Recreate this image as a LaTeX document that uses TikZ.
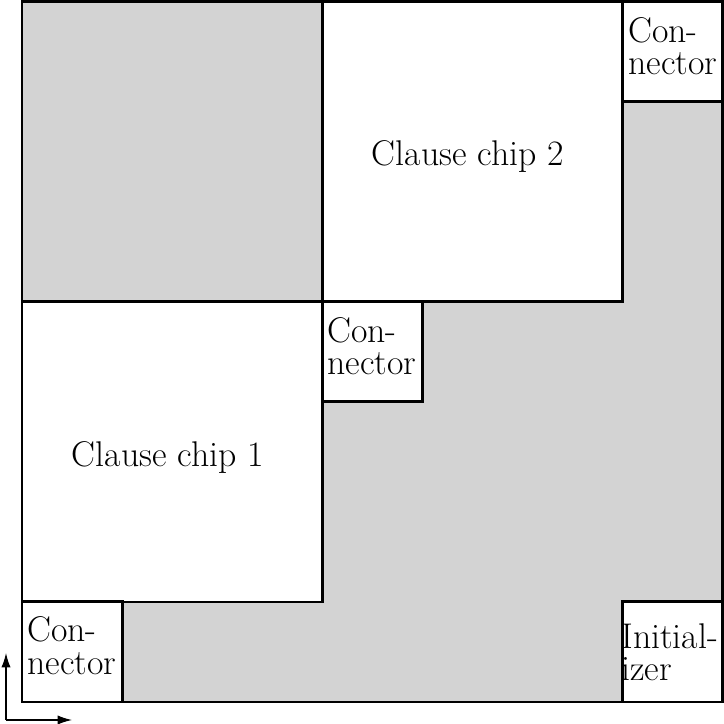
\documentclass[tikz,border=0pt]{standalone}
\usepackage{xcolor}
\definecolor{free}{RGB}{211, 211, 211}
\usepackage{tikz}
\usetikzlibrary{arrows.meta,positioning}

\begin{document}
\begin{tikzpicture}[
  x=1.7cm, y=1.7cm,
  chip/.style={draw=black, fill=white, minimum size=5.1cm, line width=1.45pt, inner sep=0pt},
  conn/.style={draw=black, fill=white, minimum size=1.7cm, line width=1.45pt, inner sep=0pt},
  lbl/.style={anchor=base west, font=\fontsize{17.28}{15.5}\selectfont, align=left, inner sep=0pt},
  region/.style={fill=free},
  axis/.style={-{Latex[length=7pt, width=4.5pt]}, line width=0.65pt}
]
\useasboundingbox (-0.22,-0.22) rectangle (7.02,7.02);
% empty area
\fill[region] (0,4) rectangle (3,7);
\fill[region] (1,0) rectangle (6,1);
\fill[region] (3,1) rectangle (4,3);
\fill[region] (4,1) -- (7,1) -- (7,6) -- (6,6) -- (6,4) -- (4,4) -- cycle;
\draw[line width=1.45pt] (0,0) rectangle (7,7);

\node[chip] (chip1) at (1.5,2.5) {};
\node[chip] (chip2) at (4.5,5.5) {};
\node[conn] (conn1) at (0.5,0.5) {};
\node[conn] (conn2) at (3.5,3.5) {};
\node[conn] (conn3) at (6.5,6.5) {};
\node[conn] (init) at (6.5,0.5) {};

% texts, base = last line
\node[lbl] (chip1txt) at ([shift={(0.51,-1.66)}]chip1.north west) {Clause chip 1};
\node[lbl] (chip2txt) at ([shift={(0.51,-1.655)}]chip2.north west) {Clause chip 2};
\node[lbl] (conn1txt) at ([shift={(0.065,-0.735)}]conn1.north west) {Con-\\nector};
\node[lbl] (conn2txt) at ([shift={(0.065,-0.74)}]conn2.north west) {Con-\\nector};
\node[lbl] (conn3txt) at ([shift={(0.075,-0.74)}]conn3.north west) {Con-\\nector};
\node[lbl] (inittxt) at ([shift={(0.005,-0.8)}]init.north west) {Initial-\\izer};

% axes
\coordinate (ax) at (-0.16,-0.18);
\coordinate (axx) at (0.5,-0.18);
\coordinate (axy) at (-0.16,0.49);
\draw[axis] (ax) -- (axx);
\draw[axis] (ax) -- (axy);
\end{tikzpicture}
\end{document}
